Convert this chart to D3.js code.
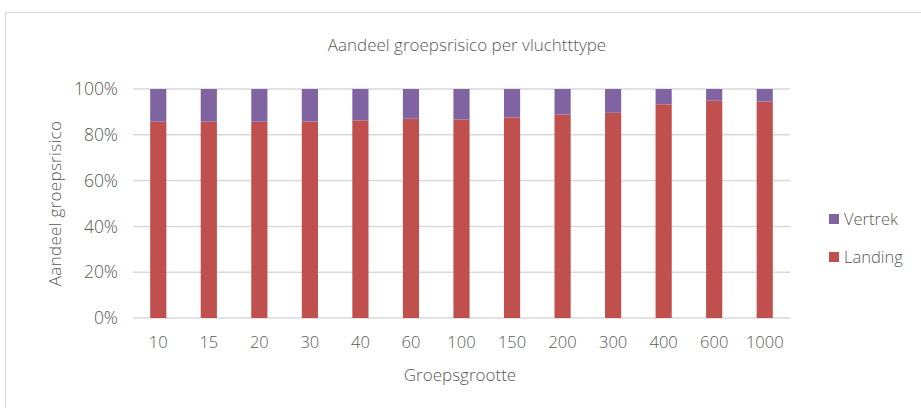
<!DOCTYPE html>
<html>
<head>
<meta charset="utf-8">
<script src="https://cdn.jsdelivr.net/npm/d3@7"></script>
<style>
  body { margin: 0; background: #fff; }
  text { font-family: "Open Sans", Lato, sans-serif; font-weight: 300; fill: #595959; }
</style>
</head>
<body>
<script>
const categories = ["10", "15", "20", "30", "40", "60", "100", "150", "200", "300", "400", "600", "1000"];
const landing = [85.7, 85.7, 85.7, 85.8, 86.3, 87.0, 86.7, 87.6, 88.9, 89.6, 93.3, 94.9, 94.5];
const vertrek = landing.map(v => 100 - v);
const yTicks = [0, 20, 40, 60, 80, 100];
const seriesNames = ["Landing", "Vertrek"];
const colors = { Landing: "#c0504d", Vertrek: "#8064a2" };

const width = 921, height = 408;
const margin = { top: 89, right: 131, bottom: 90, left: 133 };

const svg = d3.select("body").append("svg")
    .attr("width", width)
    .attr("height", height);

// chart border
svg.append("rect")
    .attr("x", 5.5).attr("y", 12.5)
    .attr("width", 930).attr("height", 420)
    .attr("fill", "#fff")
    .attr("stroke", "#d9d9d9");

const x = d3.scaleBand()
    .domain(categories)
    .range([margin.left, width - margin.right])
    .paddingInner(0.68)
    .paddingOuter(0.34);

const y = d3.scaleLinear()
    .domain([0, 100])
    .range([height - margin.bottom, margin.top]);

// gridlines
svg.append("g")
    .selectAll("line")
    .data(yTicks)
    .join("line")
    .attr("x1", margin.left)
    .attr("x2", width - margin.right)
    .attr("y1", d => y(d))
    .attr("y2", d => y(d))
    .attr("stroke", "#d9d9d9")
    .attr("stroke-width", 1.5);

const data = categories.map((c, i) => ({ cat: c, Landing: landing[i], Vertrek: vertrek[i] }));
const stacked = d3.stack().keys(seriesNames)(data);

svg.append("g")
    .selectAll("g")
    .data(stacked)
    .join("g")
    .attr("fill", d => colors[d.key])
    .selectAll("rect")
    .data(d => d)
    .join("rect")
    .attr("x", d => x(d.data.cat))
    .attr("width", x.bandwidth())
    .attr("y", d => y(d[1]))
    .attr("height", d => y(d[0]) - y(d[1]));

// y axis labels
svg.append("g")
    .selectAll("text")
    .data(yTicks)
    .join("text")
    .attr("x", 118)
    .attr("y", d => y(d))
    .attr("dy", "0.35em")
    .attr("text-anchor", "end")
    .attr("font-size", 17.5)
    .text(d => d + "%");

// x axis labels
svg.append("g")
    .selectAll("text")
    .data(categories)
    .join("text")
    .attr("x", d => x(d) + x.bandwidth() / 2)
    .attr("y", 348)
    .attr("text-anchor", "middle")
    .attr("font-size", 16.5)
    .text(d => d);

svg.append("text")
    .attr("x", 467).attr("y", 51)
    .attr("text-anchor", "middle")
    .attr("font-size", 17)
    .text("Aandeel groepsrisico per vluchtttype");

svg.append("text")
    .attr("x", 460).attr("y", 381)
    .attr("text-anchor", "middle")
    .attr("font-size", 17)
    .text("Groepsgrootte");

svg.append("text")
    .attr("transform", `translate(61,${(y(0) + y(100)) / 2}) rotate(-90)`)
    .attr("text-anchor", "middle")
    .attr("font-size", 17)
    .attr("letter-spacing", 0.3)
    .text("Aandeel groepsrisico");

// legend
const legendItems = ["Vertrek", "Landing"];
const legend = svg.append("g")
    .selectAll("g")
    .data(legendItems)
    .join("g")
    .attr("transform", (d, i) => `translate(829,${219 + i * 38})`);
legend.append("rect")
    .attr("x", 0).attr("y", -5)
    .attr("width", 10).attr("height", 10)
    .attr("fill", d => colors[d]);
legend.append("text")
    .attr("x", 15)
    .attr("dy", "0.35em")
    .attr("font-size", 16.5)
    .text(d => d);
</script>
</body>
</html>
